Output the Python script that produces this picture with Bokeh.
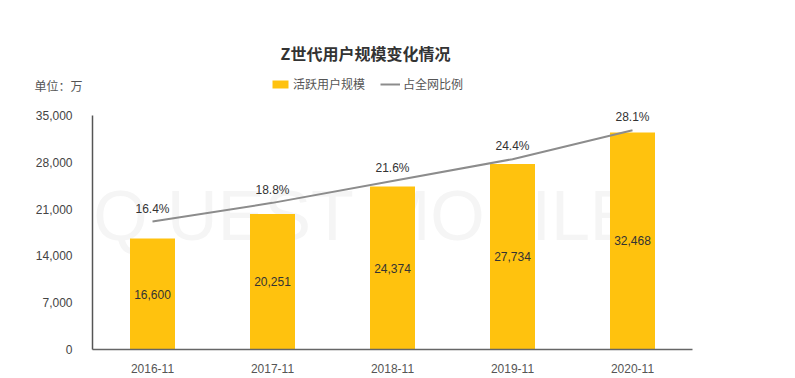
from bokeh.plotting import figure
from bokeh.layouts import column
from bokeh.models import (ColumnDataSource, Range1d, FactorRange, FixedTicker,
                          NumeralTickFormatter, Legend, LegendItem, Label, LabelSet)
from bokeh.core.properties import value
from bokeh.embed import file_html
from bokeh.resources import INLINE

categories = ["2016-11", "2017-11", "2018-11", "2019-11", "2020-11"]
users = [16600, 20251, 24374, 27734, 32468]
share = [16.4, 18.8, 21.6, 24.4, 28.1]
y_ticks = [0, 7000, 14000, 21000, 28000, 35000]
title_text = "Z世代用户规模变化情况"
unit_text = "单位：万"
series_names = ["活跃用户规模", "占全网比例"]

CN = "Noto Sans CJK SC"
NUM = "Liberation Sans"
BAR = "#FFC20E"
LINE = "#8c8c8c"

Y_MAX = 35000
PCT_MAX = 30
STRETCH = 249 / 234  # frame is a little taller than the 0..35000 axis

src = ColumnDataSource(dict(
    cat=categories,
    users=users,
    mid=[u / 2 for u in users],
    users_txt=[f"{u:,}" for u in users],
    share=share,
    share_txt=[f"{s}%" for s in share],
))

# ---------- header (title, unit, legend) ----------
# header frame is aligned with the chart frame (x 92..692), y measured from the top
h = figure(width=795, height=100, x_range=Range1d(92, 692), y_range=Range1d(100, 0),
           output_backend="svg", toolbar_location=None, min_border=0)
h.xaxis.visible = False
h.grid.visible = False
h.outline_line_color = None
h.yaxis.ticker = FixedTicker(ticks=[85])
h.yaxis.major_label_overrides = {85: unit_text}
h.yaxis.axis_line_color = None
h.yaxis.major_tick_line_color = None
h.yaxis.minor_tick_line_color = None
h.yaxis.major_label_standoff = 4
h.yaxis.major_label_text_font = CN
h.yaxis.major_label_text_font_size = "12px"
h.yaxis.major_label_text_color = "#555555"

h.text(x=[365], y=[52], text=[title_text], text_align="center", text_baseline="middle",
       text_font=value(CN), text_font_size="16px", text_font_style="bold", text_color="#333333")
dummy_bar = h.rect(x=[-10], y=[-10], width=1, height=1, fill_color=BAR, line_color=None)
dummy_line = h.line(x=[-10, -9], y=[-10, -10], line_color=LINE, line_width=2)
legend = Legend(items=[LegendItem(label=series_names[0], renderers=[dummy_bar]),
                       LegendItem(label=series_names[1], renderers=[dummy_line])],
                orientation="horizontal", location=(178, 8),
                label_text_font=CN, label_text_font_size="12px", label_text_color="#555555",
                glyph_width=20, glyph_height=10, spacing=15, label_standoff=3,
                padding=0, margin=0, border_line_color=None, background_fill_alpha=0,
                label_height=14)
h.add_layout(legend, "center")

# ---------- main chart ----------
p = figure(width=795, height=278, x_range=FactorRange(*categories, range_padding=0),
           y_range=Range1d(0, Y_MAX * STRETCH), output_backend="svg", toolbar_location=None,
           min_border_left=92, min_border_right=103, min_border_top=0, min_border_bottom=29)
p.extra_y_ranges = {"pct": Range1d(0, PCT_MAX * STRETCH)}
p.outline_line_color = None
p.xgrid.grid_line_color = None
p.ygrid.grid_line_color = None

p.add_layout(Label(x=273, y=134, x_units="screen", y_units="screen", text="Q UEST MOBILE",
                   text_align="center", text_baseline="middle", text_font=NUM,
                   text_font_size="70px", text_color="#f5f5f5", level="underlay"))

bars = p.vbar(x="cat", top="users", width=0.375, source=src,
              fill_color=BAR, line_color=None)
line = p.line(x="cat", y="share", source=src, y_range_name="pct",
              line_color=LINE, line_width=2)

p.add_layout(LabelSet(x="cat", y="mid", text="users_txt", source=src,
                      text_align="center", text_baseline="middle",
                      text_font=value(NUM), text_font_size="12px", text_color="#333333"))
p.add_layout(LabelSet(x="cat", y="share", text="share_txt", source=src, y_range_name="pct",
                      y_offset=13, text_align="center", text_baseline="middle",
                      text_font=value(NUM), text_font_size="12px", text_color="#333333"))

p.yaxis.ticker = FixedTicker(ticks=y_ticks)
p.yaxis.bounds = (0, Y_MAX)
p.yaxis.formatter = NumeralTickFormatter(format="0,0")
p.yaxis.major_tick_line_color = None
p.yaxis.minor_tick_line_color = None
p.yaxis.axis_line_color = "#555555"
p.yaxis.axis_line_width = 1.5
p.yaxis.major_label_text_font = NUM
p.yaxis.major_label_text_font_size = "12px"
p.yaxis.major_label_text_color = "#444444"
p.yaxis.major_label_standoff = 14

p.xaxis.major_tick_line_color = None
p.xaxis.minor_tick_line_color = None
p.xaxis.axis_line_color = "#666666"
p.xaxis.axis_line_width = 1.5
p.xaxis.major_label_text_font = NUM
p.xaxis.major_label_text_font_size = "12px"
p.xaxis.major_label_text_color = "#555555"
p.xaxis.major_label_standoff = 8

layout = column(h, p, spacing=0)
open("out.html", "w").write(file_html(layout, INLINE))
